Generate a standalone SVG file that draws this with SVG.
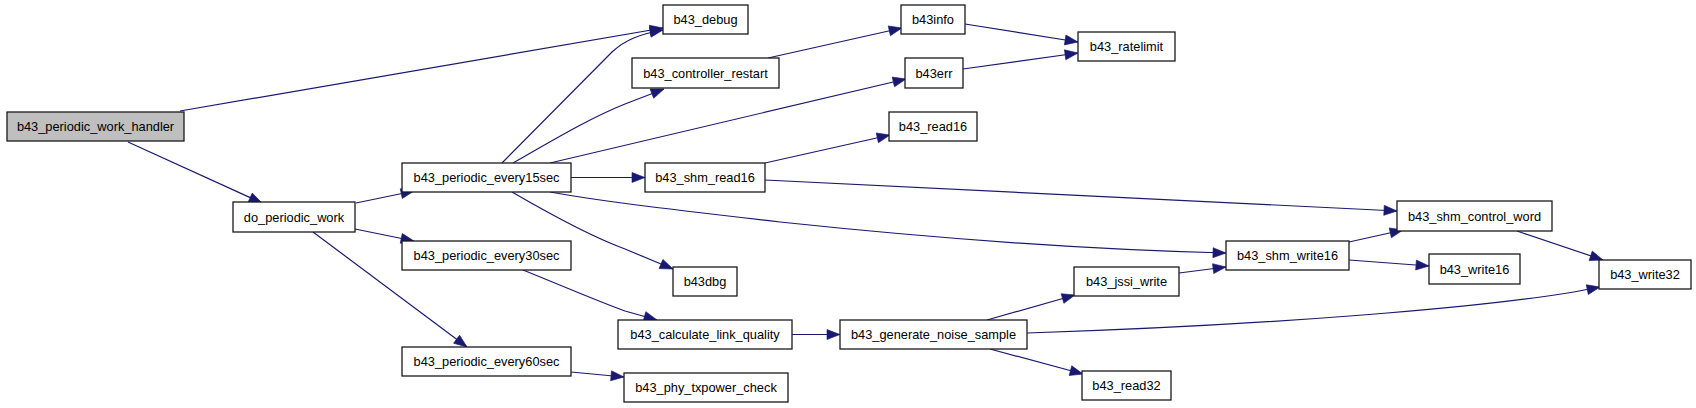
<svg xmlns="http://www.w3.org/2000/svg" width="1696" height="408" viewBox="0 0 1696 408">
<style>
.n rect{fill:#ffffff;stroke:#1a1a1a;stroke-width:1.3}
.n.root rect{fill:#bfbfbf}
.n text{font-family:"Liberation Sans",Arial,sans-serif;font-size:12.8px;fill:#000000;text-anchor:middle}
#edges path{fill:none;stroke:#191970;stroke-width:1.2;marker-end:url(#ah)}
</style>
<defs>
<marker id="ah" markerUnits="userSpaceOnUse" markerWidth="14" markerHeight="11" refX="13" refY="5" orient="auto" overflow="visible">
<path d="M0,0 L13,5 L0,10 z" fill="#191970" stroke="#191970" stroke-width="0.6"/>
</marker>
</defs>
<rect width="1696" height="408" fill="#ffffff"/>
<g id="edges">
<path d="M180,111 L663,28"/>
<path d="M128,142 L262,203"/>
<path d="M356,203 L414,191"/>
<path d="M355,229 L414,241"/>
<path d="M313,232 L467,347"/>
<path d="M502,163 L612,52 C625,40 640,34 663,30"/>
<path d="M513,163 C555,139 590,118 625,104 L664,89"/>
<path d="M550,163 L906,79"/>
<path d="M571,177.5 L645,177.5"/>
<path d="M550,192 C600,201 650,207 780,222 C950,240 1100,250 1226,253"/>
<path d="M512,192 C555,217 595,238 625,249 L673,269"/>
<path d="M768,58 L902,28"/>
<path d="M965,24 L1078,42"/>
<path d="M963,69 L1078,53"/>
<path d="M765,163 L890,135"/>
<path d="M765,180 L1397,211"/>
<path d="M1349,242 L1403,230"/>
<path d="M1349,260 L1429,266"/>
<path d="M1517,231 L1603,260"/>
<path d="M523,270 C565,287 600,302 625,311 L657,320"/>
<path d="M792,334.5 L840,334.5"/>
<path d="M571,372 L624,377"/>
<path d="M987,320 L1075,295"/>
<path d="M990,349 L1083,374"/>
<path d="M1027,333 C1250,326 1500,308 1600,287"/>
<path d="M1179,273 L1226,267"/>
</g>
<g id="n_handler" class="n root"><rect x="7" y="112" width="177" height="29"/><text x="95.5" y="131">b43_periodic_work_handler</text></g>
<g id="n_do_periodic_work" class="n"><rect x="233" y="202" width="122" height="30"/><text x="294" y="221.5">do_periodic_work</text></g>
<g id="n_debug" class="n"><rect x="663" y="5" width="85" height="29"/><text x="705.5" y="24">b43_debug</text></g>
<g id="n_controller_restart" class="n"><rect x="632" y="58" width="147" height="30"/><text x="705.5" y="77.5">b43_controller_restart</text></g>
<g id="n_every15sec" class="n"><rect x="402" y="163" width="169" height="29"/><text x="486.5" y="182">b43_periodic_every15sec</text></g>
<g id="n_shm_read16" class="n"><rect x="645" y="163" width="120" height="29"/><text x="705" y="182">b43_shm_read16</text></g>
<g id="n_b43info" class="n"><rect x="901" y="5" width="64" height="29"/><text x="933" y="24">b43info</text></g>
<g id="n_ratelimit" class="n"><rect x="1078" y="32" width="97" height="29"/><text x="1126.5" y="51">b43_ratelimit</text></g>
<g id="n_b43err" class="n"><rect x="905" y="58" width="58" height="30"/><text x="934" y="77.5">b43err</text></g>
<g id="n_read16" class="n"><rect x="889" y="112" width="88" height="29"/><text x="933" y="131">b43_read16</text></g>
<g id="n_shm_control_word" class="n"><rect x="1397" y="201" width="155" height="30"/><text x="1474.5" y="220.5">b43_shm_control_word</text></g>
<g id="n_shm_write16" class="n"><rect x="1226" y="241" width="123" height="29"/><text x="1287.5" y="260">b43_shm_write16</text></g>
<g id="n_write16" class="n"><rect x="1429" y="254" width="91" height="30"/><text x="1474.5" y="273.5">b43_write16</text></g>
<g id="n_write32" class="n"><rect x="1599" y="260" width="92" height="29"/><text x="1645" y="279">b43_write32</text></g>
<g id="n_every30sec" class="n"><rect x="402" y="241" width="169" height="29"/><text x="486.5" y="260">b43_periodic_every30sec</text></g>
<g id="n_b43dbg" class="n"><rect x="673" y="267" width="64" height="29"/><text x="705" y="286">b43dbg</text></g>
<g id="n_calc_link_quality" class="n"><rect x="618" y="320" width="174" height="29"/><text x="705" y="339">b43_calculate_link_quality</text></g>
<g id="n_every60sec" class="n"><rect x="402" y="347" width="169" height="29"/><text x="486.5" y="366">b43_periodic_every60sec</text></g>
<g id="n_phy_txpower_check" class="n"><rect x="624" y="373" width="164" height="29"/><text x="706" y="392">b43_phy_txpower_check</text></g>
<g id="n_gen_noise_sample" class="n"><rect x="840" y="320" width="187" height="29"/><text x="933.5" y="339">b43_generate_noise_sample</text></g>
<g id="n_jssi_write" class="n"><rect x="1074" y="267" width="105" height="29"/><text x="1126.5" y="286">b43_jssi_write</text></g>
<g id="n_read32" class="n"><rect x="1082" y="371" width="89" height="29"/><text x="1126.5" y="390">b43_read32</text></g>
</svg>
